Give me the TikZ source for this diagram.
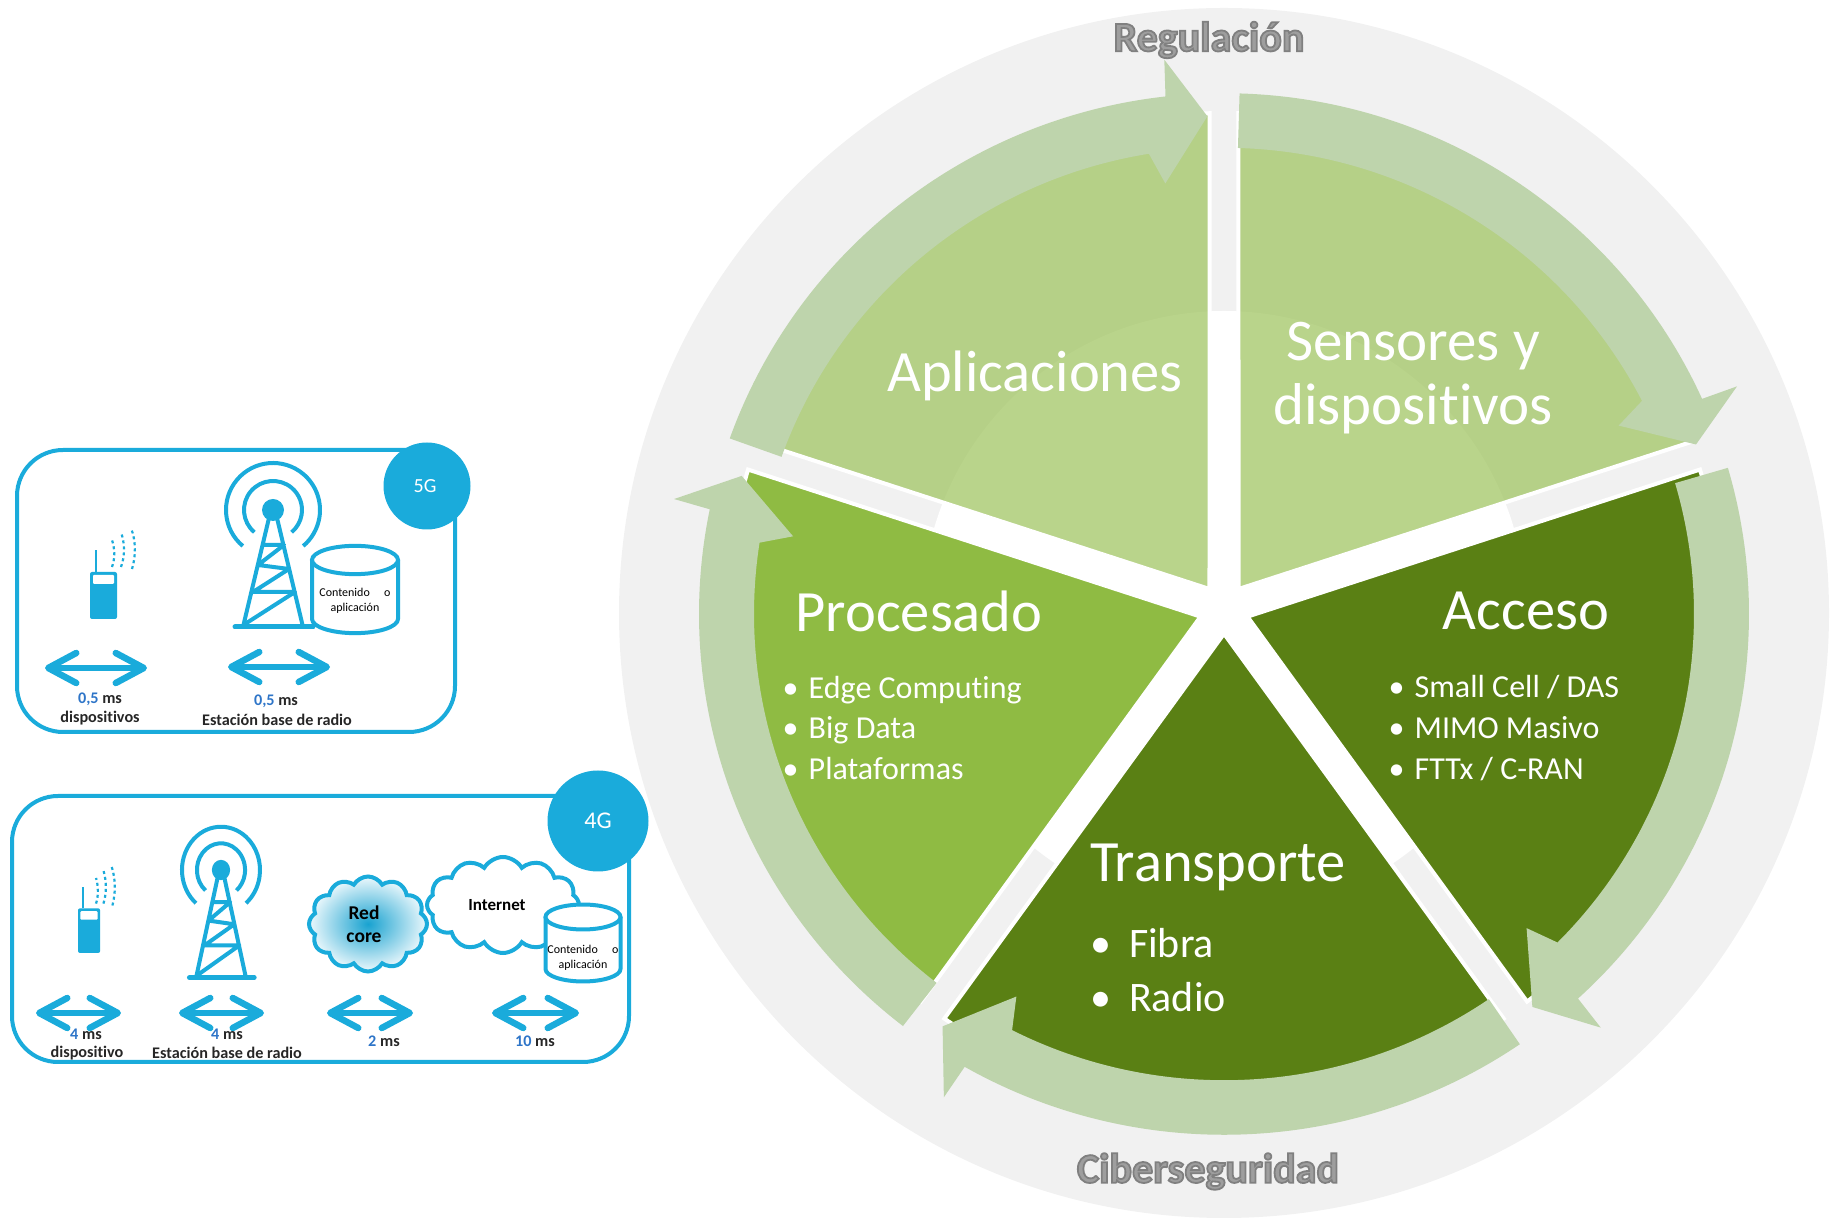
\documentclass[tikz,border=0pt]{standalone}
\usepackage{fontspec}
\setmainfont{Carlito}[Ligatures=NoCommon]
\usetikzlibrary{calc,arrows.meta,shapes.symbols}
\definecolor{skyline}{HTML}{1AABDB}
\definecolor{numblue}{HTML}{2E75C8}
\definecolor{rimgray}{HTML}{F1F1F1}
\definecolor{bandgreen}{HTML}{BED4AC}
\definecolor{palegreen}{HTML}{9CC25A}
\definecolor{midgreen}{HTML}{8FBB43}
\definecolor{darkgreen}{HTML}{5A8014}
\newcommand{\px}[1]{\fontsize{#1}{#1}\selectfont}
\newcommand{\rimtext}[1]{\special{pdf:code q 2 Tr 1.8 w 0.5 G}#1\special{pdf:code Q}}
\tikzset{
  wedge/.style={draw=white,line width=4pt,line join=miter},
  bandarrow/.style={fill=bandgreen},
  wheeltitle/.style={text=white,font=\px{58.5}},
  wheellist/.style={text=white,align=left,anchor=west,font=\fontsize{32}{40.7}\selectfont},
  rimlabel/.style={text=black!38,font=\bfseries\px{42}},
  boxframe/.style={draw=skyline,line width=4pt,rounded corners=46pt},
  badge/.style={circle,fill=skyline,text=white,inner sep=0pt},
  delay/.style={draw=skyline,line width=6.5pt,{Straight Barb[round,length=28pt,width=30pt]}-{Straight Barb[round,length=28pt,width=30pt]}},
  caption/.style={text=black!85,font=\bfseries\px{16.2},inner sep=0pt},
  tiny/.style={text=black,font=\px{12},align=center,inner sep=0pt},
  radiotower/.pic={
    \fill[skyline] (0,0) circle (11);
    \draw[skyline,line width=4pt] (230:47) arc[start angle=230,end angle=-50,radius=47];
    \draw[skyline,line width=4pt] (230:29) arc[start angle=230,end angle=-50,radius=29];
    \draw[skyline,line width=4pt,line join=round]
      (-4,-8) -- (-30,-117) (4,-8) -- (30,-117)
      (-11,-35) -- (11,-35) -- (-15,-55) -- (16,-59) -- (-20,-82) -- (22,-82) -- (-28,-114);
    \draw[skyline,line width=5pt,line cap=round] (-38,-117) -- (40,-117);
  },
  handset/.pic={
    \fill[skyline,rounded corners=2pt] (0,0) rectangle (27,47);
    \fill[white,rounded corners=1pt] (3,35) rectangle (24,44);
    \draw[skyline,line width=1.5pt] (6,47) -- (6,69);
    \draw[skyline,line width=2.2pt,dash pattern=on 3pt off 3pt] (22,52) .. controls (25,60) and (25,70) .. (22,79);
    \draw[skyline,line width=2.2pt,dash pattern=on 3pt off 3pt] (31,52) .. controls (35,63) and (35,75) .. (31,87);
    \draw[skyline,line width=2.2pt,dash pattern=on 3pt off 3pt] (42,50) .. controls (46,63) and (46,78) .. (41,91);
  },
  drum/.pic={
    \draw[skyline,line width=4pt,fill=white,line join=round] (-1,1) -- (-1,-1) arc[start angle=180,end angle=360,x radius=1,y radius=.48] -- (1,1);
    \draw[skyline,line width=4pt,fill=white] (0,1) ellipse[x radius=1,y radius=.48];
  }
}

\begin{document}
\begin{tikzpicture}[x=1pt,y=1pt]
\useasboundingbox (0,0) rectangle (1831,1218);

% wheel
\fill[rimgray] (1224,605) circle (605);
\fill[white] (1224,605) circle (302);
\begin{scope}[shift={(1224,609)}]
\foreach \ang/\tone/\op in {90/palegreen/.7, 162/palegreen/.7, 18/darkgreen/1, -54/darkgreen/1, -126/midgreen/1}{
  % each slice starts at its clockwise side
  \def\gapdeg{1.67}
  \path (0,0) ++(\ang-36:24.7) coordinate (apex);
  \path[wedge,fill=\tone,fill opacity=\op]
    (apex) -- (\ang-72+\gapdeg:496) arc[start angle=\ang-72+\gapdeg,end angle=\ang-\gapdeg,radius=496] -- cycle;
}
\end{scope}
\begin{scope}[shift={(1224,604)},yscale=.992]
\foreach \rot in {0,72,144,216,288}{
  \fill[bandarrow]
    (\rot+88.3:470) arc[start angle=\rot+88.3,end angle=\rot+27.2,radius=470]
    -- (\rot+25.7:438) -- (\rot+19.9:502) -- (\rot+24.1:562) -- (\rot+24.4:525)
    arc[start angle=\rot+24.4,end angle=\rot+88.3,radius=525] -- cycle;
}
\end{scope}
\node[wheeltitle] (apps) at (1035,842) {Aplicaciones};
\node[wheeltitle,align=center,font=\fontsize{59}{64}\selectfont] (sensors) at (1413,840) {Sensores y\\dispositivos};
\node[wheeltitle] (proc) at (919,607) {Procesado};
\node[wheeltitle] (access) at (1526,607) {Acceso};
\node[wheeltitle] (trans) at (1218,351) {Transporte};
\node[wheellist] (proclist) at (779,490) {\textbullet\hspace{.32em}Edge Computing\\\textbullet\hspace{.32em}Big Data\\\textbullet\hspace{.32em}Plataformas};
\node[wheellist] (acclist) at (1385,490) {\textbullet\hspace{.32em}Small Cell / DAS\\\textbullet\hspace{.32em}MIMO Masivo\\\textbullet\hspace{.32em}FTTx / C-RAN};
\node[wheellist,font=\fontsize{42}{54}\selectfont] (translist) at (1087,248) {\textbullet\hspace{.42em}Fibra\\\textbullet\hspace{.42em}Radio};
\node[rimlabel] (reg) at (1209,1178) {\rimtext{Regulación}};
\node[rimlabel] (cyber) at (1208,46.5) {\rimtext{Ciberseguridad}};

% 5G box
\draw[boxframe] (17,486) rectangle (455,768);
\node[badge,minimum size=87pt,font=\px{20}] (badgefive) at (427,732) {\hspace{-4pt}5G};
\pic at (273,708) {radiotower};
\pic at (90,599) {handset};
\pic[xscale=43,yscale=29.5] at (355,628.5) {drum};
\node[tiny] (cfive) at (355,617) {Contenido\hspace{1.2em}o\\[3pt]aplicación};
\coordinate (fivea) at (45,550); \coordinate (fiveb) at (147,550);
\coordinate (fivec) at (228,551); \coordinate (fived) at (330,551);
\draw[delay] (fivea) -- (fiveb);
\draw[delay] (fivec) -- (fived);
\node[caption] (fivet) at (100,519) {\textcolor{numblue}{0,5} ms};
\node[caption] (fiveu) at (100,500) {dispositivos};
\node[caption] (fivev) at (276,517) {\textcolor{numblue}{0,5} ms};
\node[caption] (fivew) at (277,498) {Estación base de radio};

% 4G box
\draw[boxframe] (12,156) rectangle (629,422);
\node[badge,minimum size=101pt,font=\px{24}] (badgefour) at (598,397) {4G};
\pic[xscale=.83,yscale=.92] at (221,348) {radiotower};
\pic[xscale=.82,yscale=.95] at (78,265) {handset};
\node[cloud,draw=skyline,line width=4pt,fill=white,cloud puffs=12,cloud puff arc=120,aspect=1.6,
  minimum width=152pt,minimum height=96pt,inner sep=0pt,font=\bfseries\px{17}] (inet) at (503,313) {Internet\hspace{12pt}\null};
\node[cloud,draw=skyline,line width=4pt,inner color=skyline!95!black,outer color=skyline!8,cloud puffs=12,cloud puff arc=120,aspect=1.25,
  minimum width=118pt,minimum height=95pt,inner sep=0pt,align=center,font=\bfseries\fontsize{19.5}{23}\selectfont] (corenet) at (368,294) {Red\hspace{8pt}\null\\core\hspace{8pt}\null};
\pic[xscale=37.5,yscale=26] at (583,275) {drum};
\node[tiny] (cfour) at (583,260) {Contenido\hspace{1.2em}o\\[3pt]aplicación};
\coordinate (foura) at (36,205); \coordinate (fourb) at (121,205);
\coordinate (fourc) at (179,205); \coordinate (fourd) at (264,205);
\coordinate (foure) at (327,205); \coordinate (fourf) at (413,205);
\coordinate (fourg) at (492,205); \coordinate (fourh) at (579,205);
\draw[delay] (foura) -- (fourb);
\draw[delay] (fourc) -- (fourd);
\draw[delay] (foure) -- (fourf);
\draw[delay] (fourg) -- (fourh);
\node[caption] (fourt) at (86,184) {\textcolor{numblue}{4} ms};
\node[caption] (fouru) at (87,165) {dispositivo};
\node[caption] (fourv) at (227,184) {\textcolor{numblue}{4} ms};
\node[caption] (fourw) at (227,165) {Estación base de radio};
\node[caption] (fourx) at (384,177) {\textcolor{numblue}{2} ms};
\node[caption] (foury) at (535,177) {\textcolor{numblue}{10} ms};
\end{tikzpicture}
\end{document}
